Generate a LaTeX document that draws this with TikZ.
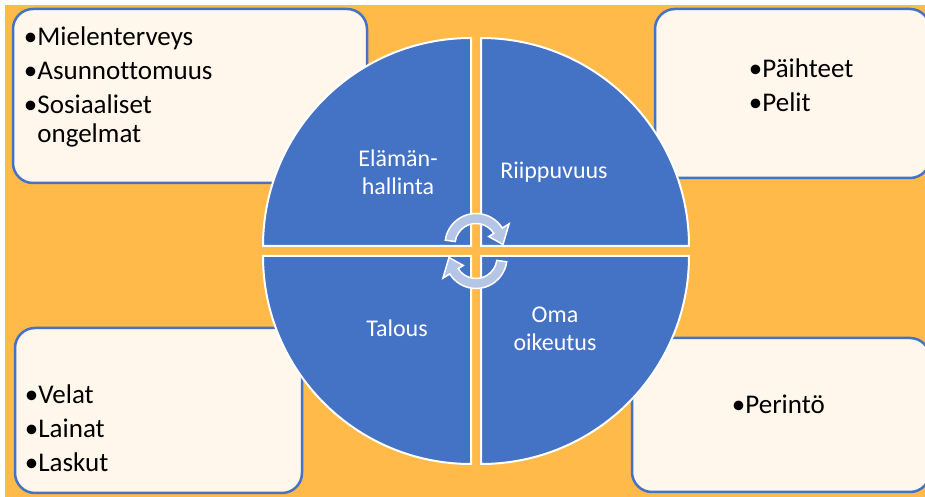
\documentclass[tikz,border=0pt]{standalone}
\usepackage{fontspec}
\setmainfont{Carlito}[Ligatures={NoCommon}]
\usetikzlibrary{calc,positioning}
\definecolor{bgorange}{HTML}{FFBA49}
\definecolor{boxcream}{HTML}{FFF7EC}
\definecolor{quadblue}{HTML}{4472C4}
\definecolor{arrowblue}{HTML}{B4C5E6}

\begin{document}
\begin{tikzpicture}[x=1pt,y=1pt,
    infobox/.style={draw=quadblue, line width=2.5pt, fill=boxcream, rounded corners=20pt, inner sep=0pt},
    item/.style={anchor=north west, align=left, inner sep=0pt, font=\fontsize{27}{34}\selectfont},
    quad/.style={fill=quadblue, draw=white, line width=2pt},
    quadlabel/.style={text=white, align=center, inner sep=0pt, font=\fontsize{24}{28}\selectfont},
    cyclearrow/.style={fill=arrowblue, draw=white, line width=1.5pt}]
    \useasboundingbox (0,0) rectangle (925,497);
    \clip (0,0) rectangle (925,497);
    \fill[bgorange] (5,0) rectangle (925,492);

    % corner boxes
    \node[infobox, minimum width=354pt, minimum height=174pt] (boxTL) at (190,401) {};
    \node[infobox, minimum width=275pt, minimum height=169pt] (boxTR) at (792.5,403.5) {};
    \node[infobox, minimum width=287pt, minimum height=165pt] (boxBL) at (158.5,86.5) {};
    \node[infobox, minimum width=298pt, minimum height=154pt] (boxBR) at (781,82) {};

    \node[item] (listTL) at ([shift={(12,-19)}]boxTL.north west)
        {•Mielenterveys\\•Asunnottomuus\\•Sosiaaliset\\[-5pt]\phantom{•}ongelmat};
    \node[item] (listTR) at ([shift={(95,-51)}]boxTR.north west) {•Päihteet\\•Pelit};
    \node[item] (listBL) at ([shift={(11,-58)}]boxBL.north west) {•Velat\\•Lainat\\•Laskut};
    \node[item] (listBR) at ([shift={(101,-58)}]boxBR.north west) {•Perintö};

    % circle quadrants
    \coordinate (c) at (476,246);
    \draw[quad] ($(c)+(-5,5)$) -- ++(-208,0) arc[start angle=180, end angle=90, radius=208] -- cycle;
    \draw[quad] ($(c)+(5,5)$) -- ++(208,0) arc[start angle=0, end angle=90, radius=208] -- cycle;
    \draw[quad] ($(c)+(-5,-5)$) -- ++(-208,0) arc[start angle=180, end angle=270, radius=208] -- cycle;
    \draw[quad] ($(c)+(5,-5)$) -- ++(208,0) arc[start angle=0, end angle=-90, radius=208] -- cycle;

    \node[quadlabel] (lblElama) at (398,325) {Elämän-\\hallinta};
    \node[quadlabel] (lblRiippu) at (554,325) {Riippuvuus};
    \node[quadlabel] (lblTalous) at (397,169) {Talous};
    \node[quadlabel] (lblOikeus) at (555,168) {Oma\\oikeutus};

    % cycle arrows
    \begin{scope}[shift={($(c)+(0,6.5)$)}]
        \filldraw[cyclearrow] (172:31) arc[start angle=172, end angle=32, radius=31]
            -- (32:39) -- (0:27) -- (32:15) -- (32:21)
            arc[start angle=32, end angle=172, radius=21] -- cycle;
    \end{scope}
    \begin{scope}[shift={($(c)+(0,-6.5)$)}]
        \filldraw[cyclearrow] (-8:31) arc[start angle=-8, end angle=-148, radius=31]
            -- (-148:39) -- (180:27) -- (-148:15) -- (-148:21)
            arc[start angle=-148, end angle=-8, radius=21] -- cycle;
    \end{scope}
\end{tikzpicture}
\end{document}
